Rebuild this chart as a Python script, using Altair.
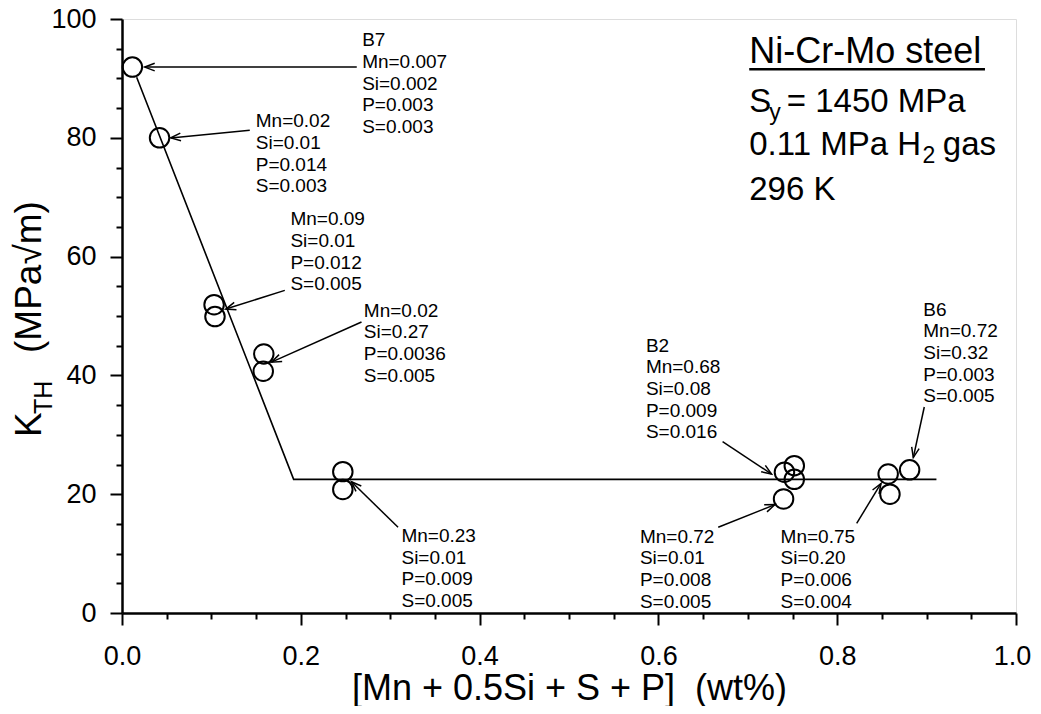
import math
import altair as alt
import pandas as pd

FONT = "Liberation Sans"
W, H = 894, 594

# measured data points
pt_x = [0.0116, 0.042, 0.103, 0.104, 0.1586, 0.158, 0.247, 0.247,
        0.741, 0.752, 0.752, 0.740, 0.857, 0.859, 0.881]
pt_y = [91.9, 80.0, 51.9, 49.9, 43.6, 40.7, 23.8, 20.8,
        23.7, 24.8, 22.5, 19.2, 23.4, 20.0, 24.1]

# bilinear fit line
fit_x = [0.0164, 0.192, 0.911]
fit_y = [90.2, 22.5, 22.5]

# composition notes (left edge, centre of first line)
note_x = [0.2686, 0.1496, 0.1884, 0.2705, 0.3126, 0.586, 0.5793, 0.7367, 0.8963]
note_y = [96.6, 82.95, 66.44, 51.07, 13.15, 45.2, 13.04, 13.04, 51.24]
note_text = [
    "B7\nMn=0.007\nSi=0.002\nP=0.003\nS=0.003",
    "Mn=0.02\nSi=0.01\nP=0.014\nS=0.003",
    "Mn=0.09\nSi=0.01\nP=0.012\nS=0.005",
    "Mn=0.02\nSi=0.27\nP=0.0036\nS=0.005",
    "Mn=0.23\nSi=0.01\nP=0.009\nS=0.005",
    "B2\nMn=0.68\nSi=0.08\nP=0.009\nS=0.016",
    "Mn=0.72\nSi=0.01\nP=0.008\nS=0.005",
    "Mn=0.75\nSi=0.20\nP=0.006\nS=0.004",
    "B6\nMn=0.72\nSi=0.32\nP=0.003\nS=0.005",
]

# arrows: tail -> head
arr_x1 = [0.2626, 0.1429, 0.1821, 0.2679, 0.3088, 0.6718, 0.6669, 0.8218, 0.8974]
arr_y1 = [91.9, 81.28, 54.31, 48.99, 14.43, 28.86, 14.43, 15.10, 34.68]
arr_x2 = [0.0254, 0.0545, 0.1161, 0.1672, 0.2567, 0.7266, 0.7303, 0.8490, 0.8851]
arr_y2 = [91.9, 79.98, 51.17, 42.23, 22.10, 23.39, 18.24, 21.81, 26.17]

# legend block text
leg_title_x = [0.7016]
leg_title_y = [92.6]
leg_title_t = ["Ni-Cr-Mo steel"]
leg_main_x = [0.7016, 0.7436, 0.7016, 0.9182, 0.7016]
leg_main_y = [84.35, 84.35, 77.13, 77.13, 69.58]
leg_main_t = ["S", "= 1450 MPa", "0.11 MPa H", "gas", "296 K"]
leg_sub_x = [0.7240, 0.8955]
leg_sub_y = [84.35, 77.13]
leg_sub_t = ["y", "2"]
ul_x = [0.7016]
ul_x2 = [0.9653]
ul_y = [91.55]

pts = pd.DataFrame({"x": pt_x, "y": pt_y})
fit = pd.DataFrame({"x": fit_x, "y": fit_y, "o": list(range(len(fit_x)))})
notes = pd.DataFrame({"x": note_x, "y": note_y, "t": note_text})
angles = []
for a, b, c, d in zip(arr_x1, arr_y1, arr_x2, arr_y2):
    dx = (c - a) * W
    dy = -(d - b) * H / 100.0
    angles.append(math.degrees(math.atan2(dy, dx)) % 360)
arrows = pd.DataFrame({"x": arr_x1, "y": arr_y1, "x2": arr_x2, "y2": arr_y2, "ang": angles})
legt = pd.DataFrame({"x": leg_title_x, "y": leg_title_y, "t": leg_title_t})
legm = pd.DataFrame({"x": leg_main_x, "y": leg_main_y, "t": leg_main_t})
legs = pd.DataFrame({"x": leg_sub_x, "y": leg_sub_y, "t": leg_sub_t})
ul = pd.DataFrame({"x": ul_x, "x2": ul_x2, "y": ul_y})

xticks = [round(i * 0.05, 2) for i in range(21)]
yticks = list(range(0, 101, 5))

xaxis = alt.Axis(
    values=xticks,
    labelExpr="(round(datum.value*100) % 20 === 0) ? format(datum.value, '.1f') : ''",
    tickSize={"condition": {"test": "round(datum.value*100) % 20 === 0", "value": 12}, "value": 6},
    labelOffset={"condition": {"test": "datum.value >= 1", "value": -4}, "value": 0},
    labelPadding=18, labelFontSize=27, labelFont=FONT, labelColor="black",
    title="[Mn + 0.5Si + S + P] \u00a0(wt%)", titleFontSize=36, titleFont=FONT,
    titleFontWeight="normal", titleColor="black", titleBaseline="alphabetic", titleY=86,
    grid=False, domainColor="black", domainWidth=2.5, tickColor="black", tickWidth=2,
    labelFlush=False, labelOverlap=False,
)
yaxis = alt.Axis(
    values=yticks,
    labelExpr="(datum.value % 20 === 0) ? datum.label : ''",
    tickSize={"condition": {"test": "datum.value % 20 === 0", "value": 12}, "value": 6},
    labelPadding=14, labelFontSize=27, labelFont=FONT, labelColor="black",
    title=None, grid=False, domainColor="black", domainWidth=2.5,
    tickColor="black", tickWidth=2, labelFlush=False, labelOverlap=False,
)
xs = alt.Scale(domain=[0, 1], nice=False, zero=False)
ys = alt.Scale(domain=[0, 100], nice=False, zero=False)
X = alt.X("x:Q", scale=xs, axis=xaxis)
Y = alt.Y("y:Q", scale=ys, axis=yaxis)

line = alt.Chart(fit).mark_line(color="black", strokeWidth=1.6).encode(x=X, y=Y, order="o:Q")
circles = alt.Chart(pts).mark_point(
    shape="circle", filled=False, size=380, color="black", strokeWidth=2, opacity=1
).encode(x=X, y=Y)
arr_lines = alt.Chart(arrows).mark_rule(color="black", strokeWidth=1.5).encode(
    x=X, y=Y, x2="x2:Q", y2="y2:Q")
arr_heads = alt.Chart(arrows).mark_point(
    shape="M -1 -0.38 L 0 0 L -1 0.38", filled=False, size=400,
    color="black", strokeWidth=1.5, opacity=1
).encode(x=alt.X("x2:Q", scale=xs, axis=xaxis), y=alt.Y("y2:Q", scale=ys, axis=yaxis),
         angle=alt.Angle("ang:Q", scale=None))
note_txt = alt.Chart(notes).mark_text(
    align="left", baseline="top", dy=-8, fontSize=19, font=FONT, color="black",
    lineBreak="\n", lineHeight=21.7
).encode(x=X, y=Y, text="t:N")
leg_title = alt.Chart(legt).mark_text(
    align="left", baseline="alphabetic", fontSize=36, font=FONT, color="black"
).encode(x=X, y=Y, text="t:N")
leg_main = alt.Chart(legm).mark_text(
    align="left", baseline="alphabetic", fontSize=33, font=FONT, color="black"
).encode(x=X, y=Y, text="t:N")
leg_sub = alt.Chart(legs).mark_text(
    align="left", baseline="alphabetic", dy=8, fontSize=23, font=FONT, color="black"
).encode(x=X, y=Y, text="t:N")
underline = alt.Chart(ul).mark_rule(color="black", strokeWidth=2.5).encode(
    x=X, x2="x2:Q", y=Y)

ytitle_main = alt.Chart(pd.DataFrame({"t": ["K"]})).mark_text(
    align="left", baseline="alphabetic", angle=270, fontSize=37, font=FONT, color="black"
).encode(x=alt.value(-81), y=alt.value(418), text="t:N")
ytitle_sub = alt.Chart(pd.DataFrame({"t": ["TH"]})).mark_text(
    align="left", baseline="alphabetic", angle=270, fontSize=25, font=FONT, color="black"
).encode(x=alt.value(-70), y=alt.value(395), text="t:N")
ytitle_rest = alt.Chart(pd.DataFrame({"t": ["(MPa\u221am)"]})).mark_text(
    align="left", baseline="alphabetic", angle=270, fontSize=37, font=FONT, color="black"
).encode(x=alt.value(-81), y=alt.value(334), text="t:N")

chart = alt.layer(
    line, arr_lines, arr_heads, circles, note_txt, leg_title, leg_main, leg_sub, underline,
    ytitle_main, ytitle_sub, ytitle_rest
).properties(
    width=W, height=H,
    autosize=alt.AutoSizeParams(type="none"),
    padding={"left": 114, "top": 11, "right": 17, "bottom": 93},
).configure_view(stroke="black", strokeWidth=2).configure(background="white")

chart.save("out.html", embed_options={"renderer": "svg", "actions": False})
